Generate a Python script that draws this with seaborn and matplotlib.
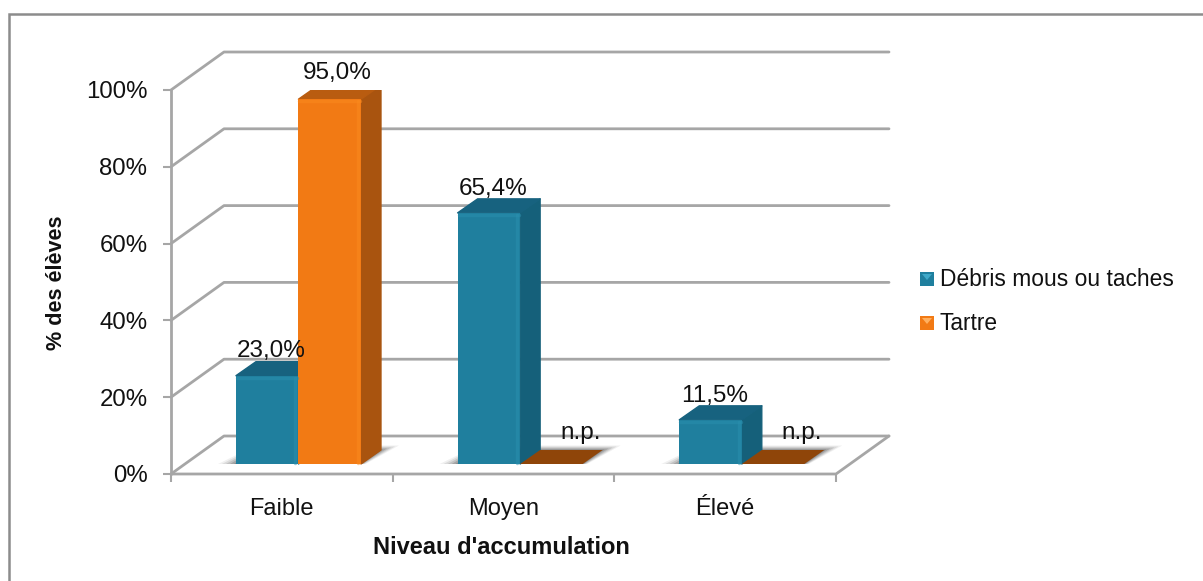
import numpy as np
import pandas as pd
import seaborn as sns
import matplotlib
matplotlib.use('Agg')
import matplotlib.pyplot as plt
from matplotlib.patches import Polygon, Rectangle

categories = ["Faible", "Moyen", "Élevé"]
series_names = ["Débris mous ou taches", "Tartre"]
debris_values = [23.0, 65.4, 11.5]
tartre_values = [95.0, 0.0, 0.0]
debris_labels = ["23,0%", "65,4%", "11,5%"]
tartre_labels = ["95,0%", "n.p.", "n.p."]
y_ticks = [0, 20, 40, 60, 80, 100]

TEAL = "#1f7f9e"
TEAL_LIGHT = "#2a8fae"
TEAL_SIDE = "#15607a"
TEAL_TOP = "#17627f"
ORANGE = "#f27a14"
ORANGE_LIGHT = "#fb8a1e"
ORANGE_SIDE = "#a9540f"
ORANGE_TOP = "#b95c10"
FLAT_TOP = "#8f4509"
GRID = "#a6a6a6"
TXT = "#111111"

W, H = 1203, 581
sns.set_theme(style="white")
plt.rcParams['font.family'] = ['Liberation Sans', 'DejaVu Sans']

fig = plt.figure(figsize=(W / 100, H / 100), dpi=100)
# l'axe couvre le plan avant du graphique: x 171-836, y 474-90 en pixels
ax = fig.add_axes([171 / W, 1 - 474 / H, (836 - 171) / W, (474 - 90) / H])

df = pd.DataFrame({
    "niveau": categories * 2,
    "valeur": debris_values + tartre_values,
    "serie": [series_names[0]] * 3 + [series_names[1]] * 3,
})

sns.barplot(data=df, x="niveau", y="valeur", hue="serie", order=categories,
            palette=[TEAL, ORANGE], width=0.564, gap=0, saturation=1,
            legend=False, ax=ax, zorder=5, linewidth=0)
ax.set_xlim(-0.5, 2.5)
ax.set_ylim(0, 100)

# profondeur 3D en unites de donnees (53 px / 38 px entre plan avant et mur)
px_x = 3 / 665
px_y = 100 / 384
depth_x = 53 * px_x
depth_y = 38 * px_y
bar_shift_x = 0.075
bar_base = 10 * px_y
bar_dx = 20 * px_x
bar_dy = 14 * px_y

# sol et murs
clip = dict(clip_on=False)
for t in y_ticks:
    ax.plot([-0.5, -0.5 + depth_x, 2.5 + depth_x], [t, t + depth_y, t + depth_y],
            color=GRID, lw=2, zorder=1, solid_capstyle="round", **clip)
ax.plot([-0.5, 2.5, 2.5 + depth_x], [0, 0, depth_y], color=GRID, lw=2, zorder=1, **clip)
ax.plot([-0.5, -0.5], [0, 100], color=GRID, lw=2, zorder=1, **clip)


# ombres au sol, plusieurs couches pour adoucir
def shadow(x0, x1):
    for grow, a in zip([18, 14, 10, 6, 2], [0.08, 0.12, 0.16, 0.22, 0.28]):
        pts = [(x0 - grow * px_x, bar_base),
               (x1 + grow * 0.25 * px_x, bar_base),
               (x1 + (bar_dx + grow * px_x), bar_base + bar_dy + grow * 0.25 * px_y),
               (x0 + bar_dx, bar_base + bar_dy + grow * 0.25 * px_y)]
        ax.add_patch(Polygon(pts, closed=True, fc="#444444", ec="none", alpha=a, zorder=2, **clip))


patches = [p for p in ax.patches if isinstance(p, Rectangle)]
n_cat = len(categories)
debris_bars = patches[:n_cat]
tartre_bars = patches[n_cat:]

for k in range(n_cat):
    a = debris_bars[k]
    b = tartre_bars[k]
    shadow(a.get_x() + bar_shift_x, b.get_x() + b.get_width() + bar_shift_x)

for bars, labels, cols in [(debris_bars, debris_labels, (TEAL_SIDE, TEAL_TOP, TEAL_LIGHT)),
                           (tartre_bars, tartre_labels, (ORANGE_SIDE, ORANGE_TOP, ORANGE_LIGHT))]:
    for p, lab in zip(bars, labels):
        v = p.get_height()
        x0 = p.get_x() + bar_shift_x
        x1 = x0 + p.get_width()
        p.set_x(x0)
        p.set_y(bar_base)
        top = bar_base + v
        z = p.get_zorder()
        if v > 0:
            ax.add_patch(Polygon([(x1, bar_base), (x1 + bar_dx, bar_base + bar_dy),
                                  (x1 + bar_dx, top + bar_dy), (x1, top)],
                                 closed=True, fc=cols[0], ec=cols[0], lw=1, joinstyle="round",
                                 zorder=z - 0.1))
            ax.add_patch(Polygon([(x0, top), (x0 + bar_dx, top + bar_dy),
                                  (x1 + bar_dx, top + bar_dy), (x1, top)],
                                 closed=True, fc=cols[1], ec=cols[1], lw=1, joinstyle="round",
                                 zorder=z - 0.1))
            # petit biseau clair sur la face avant
            ax.plot([x0 + 1 * px_x, x1 - 1 * px_x], [top - 2 * px_y] * 2, color=cols[2], lw=2.5,
                    alpha=0.5, zorder=z + 0.1)
            ax.plot([x1 - 3 * px_x] * 2, [bar_base + 1 * px_y, top - 2 * px_y], color=cols[2], lw=2.5,
                    alpha=0.5, zorder=z + 0.1)
            # orange decale un peu, comme dans l'original
            xc = (x0 + x1) / 2 + bar_dx * 0.2 + (4 * px_x if cols[0] == ORANGE_SIDE else 0)
            yt = top + bar_dy - 0.2 + (0.5 if cols[0] == ORANGE_SIDE else 0)
        else:
            ax.add_patch(Polygon([(x0, top), (x0 + bar_dx, top + bar_dy),
                                  (x1 + bar_dx, top + bar_dy), (x1, top)],
                                 closed=True, fc=FLAT_TOP, ec="none", zorder=z - 0.1))
            xc = (x0 + x1) / 2 + 18 * px_x + bar_dx * 0.55
            yt = top + bar_dy + 1.5
        ax.text(xc, yt, lab, ha="center", va="bottom", fontsize=17.5, color=TXT, zorder=8)

# axes et graduations
sns.despine(ax=ax, left=True, bottom=True, right=True, top=True)
ax.set_yticks(y_ticks)
ax.set_yticklabels([f"{t}%" for t in y_ticks], fontsize=17.3, color=TXT)
ax.set_xticks([-0.5, 0.5, 1.5, 2.5], minor=False)
ax.set_xticklabels([])
ax.tick_params(axis="y", length=6, width=1.5, color=GRID, left=True, pad=11)
ax.tick_params(axis="x", length=6, width=1.5, color=GRID, bottom=True)
for i, c in enumerate(categories):
    ax.annotate(c, (i, 0), xytext=(0, -17), textcoords="offset points", ha="center", va="top",
                fontsize=17, color=TXT, annotation_clip=False)
ax.set_xlabel("")
ax.set_ylabel("")
ax.patch.set_alpha(0)

fig.text(501 / W, 1 - 547 / H, "Niveau d'accumulation", fontsize=17, fontweight="bold",
         ha="center", va="center", color=TXT)
fig.text(57 / W, 1 - 283 / H, "% des élèves", fontsize=15.6, fontweight="bold",
         rotation=90, ha="center", va="center", color=TXT)

# legende
for ypx, col, top_col, name in [(279, TEAL, "#3fa9c9", series_names[0]), (323, ORANGE, "#ffb060", series_names[1])]:
    fig.patches.append(Rectangle((920 / W, 1 - (ypx + 7) / H), 14 / W, 14 / H,
                                 transform=fig.transFigure, fc=col, ec="none"))
    fig.patches.append(Polygon([(922 / W, 1 - (ypx - 5) / H), (932 / W, 1 - (ypx - 5) / H), (927 / W, 1 - (ypx + 1) / H)],
                               closed=True, transform=fig.transFigure, fc=top_col, ec="none"))
    fig.text(939.5 / W, 1 - ypx / H, name, fontsize=16.4, ha="left", va="center", color=TXT)

# cadre
fig.patches.append(Rectangle((8.5 / W, -0.01), 1.1, 1 - 13.5 / H + 0.01, transform=fig.transFigure,
                             fc="none", ec="#8c8c8c", lw=1.8))

fig.savefig("out.png", dpi=100)
